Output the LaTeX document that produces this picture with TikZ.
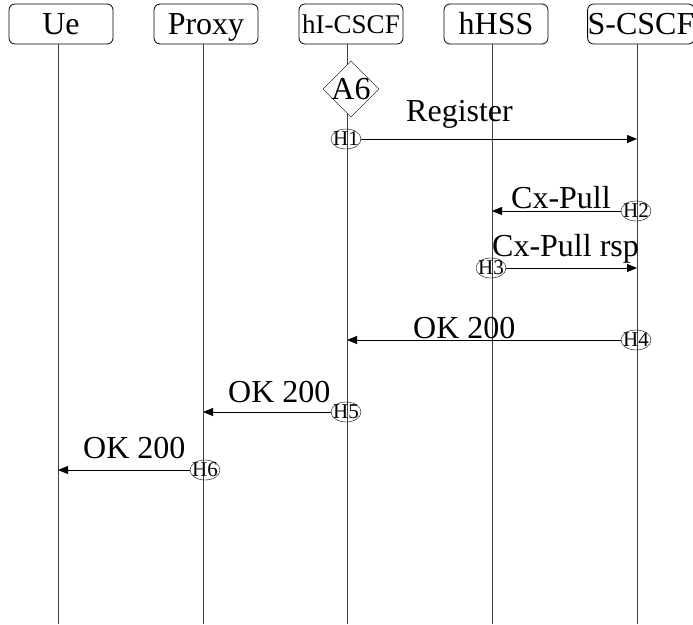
\documentclass[tikz,border=0pt]{standalone}
\usepackage{fontspec}
\setmainfont{Liberation Serif}
\usetikzlibrary{arrows.meta,shapes.geometric}

\begin{document}
\begin{tikzpicture}[x=1pt,y=-1pt,>={Triangle[length=10pt,width=8pt]},
  actor/.style={draw,rounded corners=6pt,line width=0.8pt,minimum width=104pt,minimum height=40pt,inner sep=0pt,text height=21pt,text depth=0pt,font=\fontsize{32}{32}\selectfont},
  hook/.style={draw,ellipse,inner sep=-3pt,minimum width=30pt,minimum height=20pt,font=\fontsize{21}{21}\selectfont},
  msg/.style={inner sep=0pt,anchor=base west,font=\fontsize{32}{32}\selectfont},
  life/.style={draw=black!75,line width=0.8pt}]
\useasboundingbox (0,0) rectangle (693,624);
% actors
\node[actor] (ue) at (61,24) {Ue};
\node[actor] (proxy) at (206,24) {Proxy};
\node[actor,font=\fontsize{27}{27}\selectfont,text height=18pt] (icscf) at (351,24) {hI-CSCF};
\node[actor] (hss) at (496,24) {hHSS};
\node[actor] (scscf) at (641,24) {S-CSCF};
\coordinate (ue-end) at (58,624);
\coordinate (proxy-end) at (203,624);
\coordinate (icscf-end) at (347,624);
\coordinate (hss-end) at (492,624);
\coordinate (scscf-end) at (637,624);
% lifelines
\foreach \a in {ue,proxy,icscf,hss,scscf}
  \draw[life] (\a-end |- \a.south) -- (\a-end);
% A6
\node[draw,diamond,fill=white,minimum size=56pt,inner sep=0pt] (a6) at (351,89) {};
\node[font=\fontsize{32}{32}\selectfont,inner sep=0pt] at (a6) {A6};
% hooks
\node[hook] (h1) at (346,139) {H1};
\node[hook] (h2) at (636,211) {H2};
\node[hook] (h3) at (491,268) {H3};
\node[hook] (h4) at (636,340) {H4};
\node[hook] (h5) at (346,412) {H5};
\node[hook] (h6) at (205,470) {H6};
% messages
\draw[->] (h1) -- (h1 -| scscf-end);
\draw[->] (h2) -- (h2 -| hss-end);
\draw[->] (h3) -- (h3 -| scscf-end);
\draw[->] (h4) -- (h4 -| icscf-end);
\draw[->] (h5) -- (h5 -| proxy-end);
\draw[->] (h6) -- (h6 -| ue-end);
\node[msg] (register) at (406,121) {Register};
\node[msg] (pull) at (511,208) {Cx-Pull};
\node[msg] (pullrsp) at (492,256) {Cx-Pull rsp};
\node[msg] (ok1) at (413,338) {OK 200};
\node[msg] (ok2) at (228,402) {OK 200};
\node[msg] (ok3) at (83,458) {OK 200};
\end{tikzpicture}
\end{document}
